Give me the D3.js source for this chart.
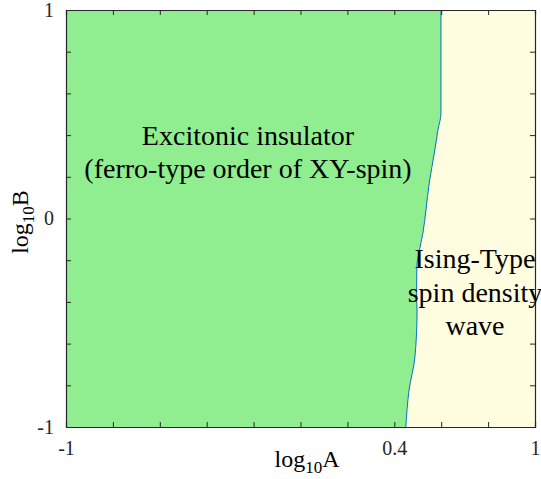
<!DOCTYPE html>
<html>
<head>
<meta charset="utf-8">
<script src="https://cdn.jsdelivr.net/npm/d3@7"></script>
<style>
  body { margin: 0; background: #fff; }
</style>
</head>
<body>
<div id="visContainer"></div>
<script>
var width = 541, height = 479;
var serif = "'Liberation Serif', 'Times New Roman', Times, 'DejaVu Serif', serif";

// phase boundary (log10A vs log10B)
var boundaryB = [1, 0.506, 0.424, 0.329, 0.170, 0.041, -0.070, -0.137, -0.233, -0.391, -0.439, -0.664, -0.823, -1];
var boundaryA = [0.599, 0.599, 0.586, 0.573, 0.549, 0.535, 0.522, 0.510, 0.496, 0.495, 0.497, 0.488, 0.463, 0.449];

var xTicks = [-1, -0.8, -0.6, -0.4, -0.2, 0, 0.2, 0.4, 0.6, 0.8, 1];
var yTicks = [-1, -0.8, -0.6, -0.4, -0.2, 0, 0.2, 0.4, 0.6, 0.8, 1];
var xTickLabels = [-1, 0.4, 1];
var yTickLabels = [-1, 0, 1];

var boundary = boundaryB.map(function(b, i) { return {a: boundaryA[i], b: b}; });

var svg = d3.select("#visContainer").append("svg")
    .attr("width", width)
    .attr("height", height)
    .style("font-family", serif);

var x = d3.scaleLinear().domain([-1, 1]).range([66, 535]);
var y = d3.scaleLinear().domain([-1, 1]).range([427, 10]);

// green region (left of boundary)
var leftArea = d3.area()
    .y(function(d) { return y(d.b); })
    .x0(x(-1))
    .x1(function(d) { return x(d.a); })
    .curve(d3.curveMonotoneY);

var rightArea = d3.area()
    .y(function(d) { return y(d.b); })
    .x0(function(d) { return x(d.a); })
    .x1(x(1))
    .curve(d3.curveMonotoneY);

svg.append("path").datum(boundary)
    .attr("d", leftArea)
    .attr("fill", "#90ee90");

svg.append("path").datum(boundary)
    .attr("d", rightArea)
    .attr("fill", "#fffde0");

svg.append("path").datum(boundary)
    .attr("d", d3.line()
        .x(function(d) { return x(d.a); })
        .y(function(d) { return y(d.b); })
        .curve(d3.curveMonotoneY))
    .attr("fill", "none")
    .attr("stroke", "#0072bd")
    .attr("stroke-width", 1);

// axes, MATLAB style box with inward ticks
function fmt(list) {
  return function(d) { return list.indexOf(d) >= 0 ? String(d) : ""; };
}

svg.append("g")
    .attr("transform", "translate(0," + y(-1) + ")")
    .call(d3.axisBottom(x).tickValues(xTicks).tickSize(-5).tickPadding(14).tickFormat(fmt(xTickLabels)));
svg.append("g")
    .attr("transform", "translate(0," + y(1) + ")")
    .call(d3.axisTop(x).tickValues(xTicks).tickSize(-5).tickFormat(""));
svg.append("g")
    .attr("transform", "translate(" + x(-1) + ",0)")
    .call(d3.axisLeft(y).tickValues(yTicks).tickSize(-5).tickPadding(12).tickFormat(fmt(yTickLabels)));
svg.append("g")
    .attr("transform", "translate(" + x(1) + ",0)")
    .call(d3.axisRight(y).tickValues(yTicks).tickSize(-5).tickFormat(""));

svg.selectAll("g").attr("font-family", serif);
svg.selectAll(".domain").attr("stroke", "#262626").attr("stroke-width", 1.2);
svg.selectAll(".tick line").attr("stroke", "#262626");
svg.selectAll(".tick text")
    .style("font-family", serif)
    .style("font-size", "20px")
    .attr("fill", "#262626");

// axis titles
var xt = svg.append("text")
    .attr("x", 307)
    .attr("y", 467)
    .style("text-anchor", "middle")
    .style("font-family", serif)
    .style("font-size", "24px");
xt.append("tspan").text("log");
xt.append("tspan").attr("dy", 6).style("font-size", "17px").text("10");
xt.append("tspan").attr("dy", -6).text("A");

var yt = svg.append("text")
    .attr("transform", "translate(28,222) rotate(-90)")
    .style("text-anchor", "middle")
    .style("font-family", serif)
    .style("font-size", "24px");
yt.append("tspan").text("log");
yt.append("tspan").attr("dy", 6).style("font-size", "17px").text("10");
yt.append("tspan").attr("dy", -6).text("B");

// phase labels
var leftLabel = ["Excitonic insulator", "(ferro-type order of XY-spin)"];
var rightLabel = ["Ising-Type", "spin density", "wave"];

svg.selectAll(".lbl1").data(leftLabel).enter().append("text")
    .attr("x", 248)
    .attr("y", function(d, i) { return 145 + i * 33; })
    .style("text-anchor", "middle")
    .style("font-family", serif)
    .style("font-size", "28px")
    .text(function(d) { return d; });

svg.selectAll(".lbl2").data(rightLabel).enter().append("text")
    .attr("x", 475)
    .attr("y", function(d, i) { return 268 + i * 33.5; })
    .style("text-anchor", "middle")
    .style("font-family", serif)
    .style("font-size", "28px")
    .text(function(d) { return d; });
</script>
</body>
</html>
